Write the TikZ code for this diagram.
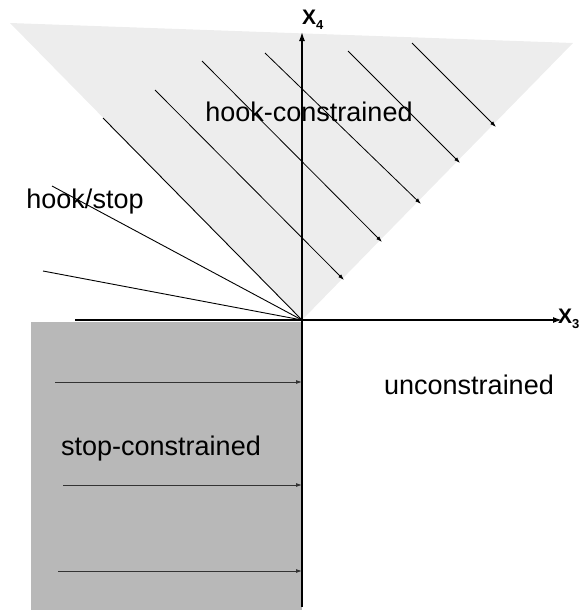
\documentclass[tikz,border=0pt]{standalone}
\usepackage{fontspec}
\setmainfont{Liberation Sans}
\usetikzlibrary{arrows.meta}
\begin{document}
\begin{tikzpicture}[x=1pt,y=-1pt,
 axis/.style={line width=1.4pt,-{Latex[length=9pt,width=6pt]}},
 flow/.style={line width=0.8pt,-{Latex[length=6pt,width=4pt]}},
 ray/.style={line width=0.9pt},
 lbl/.style={font=\fontsize{27}{30}\selectfont, inner sep=0pt},
 axlbl/.style={font=\fontsize{21}{24}\selectfont\bfseries, inner sep=0pt, anchor=base west}]
\useasboundingbox (0,0) rectangle (582,611);
\coordinate (O) at (302,320);
% regions
\fill[black!7] (10,23) -- (573,43) -- (O) -- cycle;
\fill[black!28] (31,322) rectangle (302,610);
% labels
\node[lbl] (hs) at (85,202) {hook/stop};
\node[lbl] (hc) at (309,112) {hook-constrained};
\node[lbl] (sc) at (161,449) {stop-constrained};
\node[lbl] (uc) at (469,385) {unconstrained};
% axes
\coordinate (xs) at (75,320);
\coordinate (xe) at (562,320);
\coordinate (ys) at (302,607);
\coordinate (ye) at (302,32);
\draw[axis] (xs) -- (xe);
\draw[axis] (ys) -- (ye);
\node[axlbl] (x3) at (558,323) {X\raisebox{-5pt}{\fontsize{13}{13}\selectfont 3}};
\node[axlbl] (x4) at (302,24) {X\raisebox{-5pt}{\fontsize{13}{13}\selectfont 4}};
% rays to origin
\coordinate (r1) at (52,186);
\coordinate (r2) at (43,271);
\coordinate (r3) at (103,118);
\draw[ray] (r1) -- (O);
\draw[ray] (r2) -- (O);
\draw[ray] (r3) -- (O);
% diagonal flows
\coordinate (d1s) at (155,90);  \coordinate (d1e) at (344,280);
\coordinate (d2s) at (202,61);  \coordinate (d2e) at (382,242);
\coordinate (d3s) at (265,53);  \coordinate (d3e) at (421,204);
\coordinate (d4s) at (348,51);  \coordinate (d4e) at (460,163);
\coordinate (d5s) at (412,43);  \coordinate (d5e) at (496,127);
\draw[flow] (d1s) -- (d1e);
\draw[flow] (d2s) -- (d2e);
\draw[flow] (d3s) -- (d3e);
\draw[flow] (d4s) -- (d4e);
\draw[flow] (d5s) -- (d5e);
% horizontal flows
\coordinate (h1s) at (55,382);  \coordinate (h1e) at (302,382);
\coordinate (h2s) at (63,485);  \coordinate (h2e) at (302,485);
\coordinate (h3s) at (58,571);  \coordinate (h3e) at (302,571);
\draw[flow,black!80] (h1s) -- (h1e);
\draw[flow,black!80] (h2s) -- (h2e);
\draw[flow,black!80] (h3s) -- (h3e);
\end{tikzpicture}
\end{document}
